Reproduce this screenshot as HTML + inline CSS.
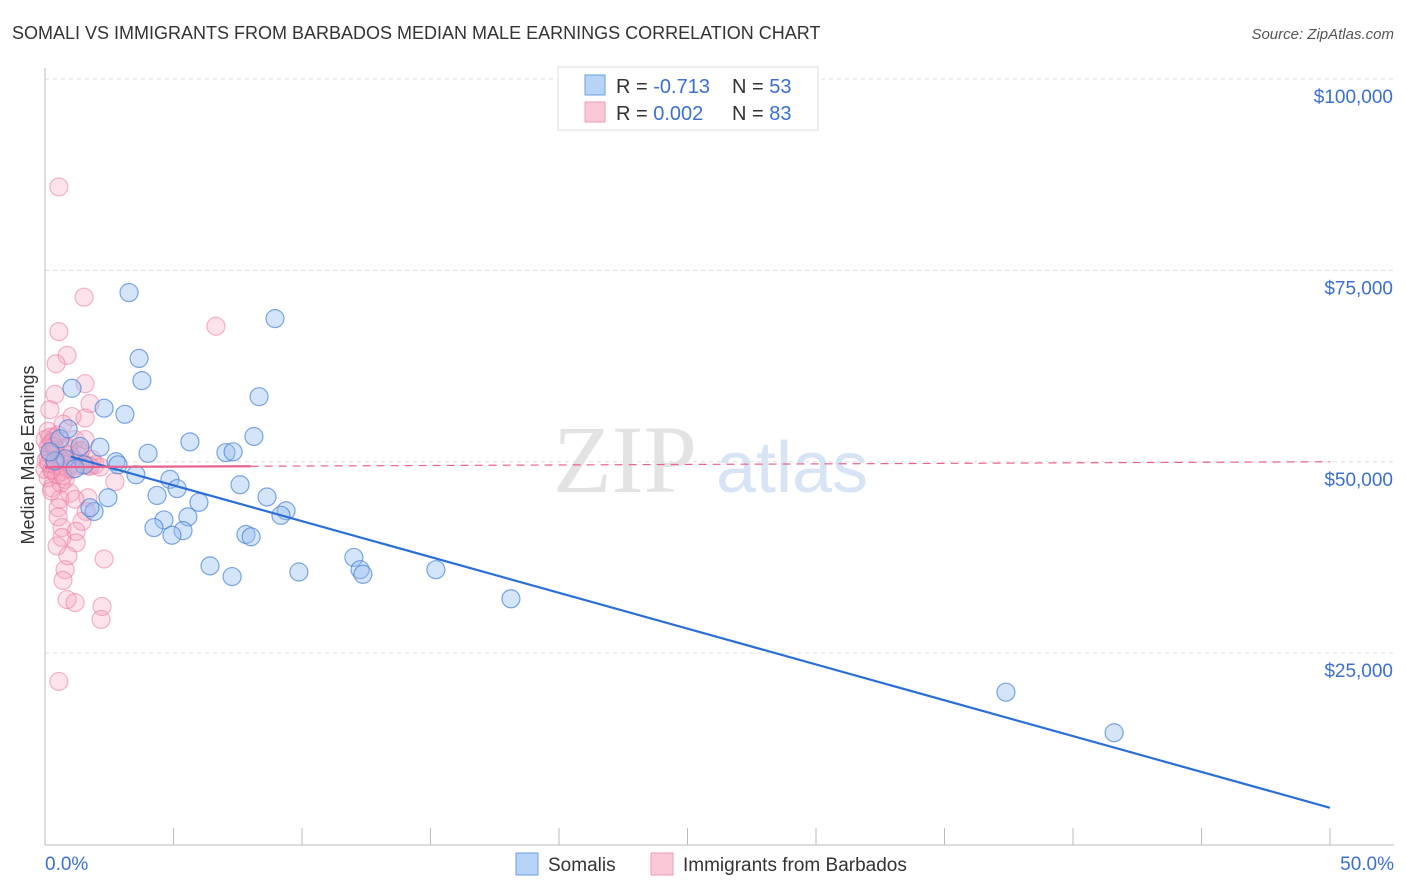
<!DOCTYPE html>
<html><head><meta charset="utf-8"><style>
body{margin:0;background:#fff;font-family:"Liberation Sans",sans-serif;}
#wrap{position:relative;width:1406px;height:892px;overflow:hidden;}
</style></head><body>
<div id="wrap">
<svg id="svg" width="1406" height="892"></svg>
</div>
<script>
const yTicks=[25000,50000,75000,100000];
const yTickLabels=["$25,000","$50,000","$75,000","$100,000"];
const somaliX=[3.27,8.95,3.66,3.77,8.33,1.05,2.30,3.11,8.13,5.64,7.04,7.32,4.01,2.14,2.76,1.36,1.52,3.54,4.86,5.14,4.36,2.45,7.59,8.64,5.99,9.38,9.18,1.91,5.56,4.63,4.24,5.37,4.94,7.82,8.02,6.42,7.28,9.88,12.02,12.26,12.37,15.21,18.13,37.39,41.6,0.78,0.39,0.58,1.17,1.75,0.9,0.19,2.84];
const somaliY=[72.1,68.7,63.5,60.6,58.5,59.6,57.0,56.2,53.3,52.6,51.2,51.3,51.1,51.9,50.0,52.0,49.6,48.3,47.7,46.5,45.6,45.3,47.0,45.4,44.7,43.6,43.0,43.5,42.8,42.4,41.4,41.0,40.4,40.5,40.2,36.4,35.0,35.6,37.5,35.9,35.3,35.9,32.1,19.9,14.6,50.4,50.1,53.0,49.1,44.0,54.3,51.3,49.6];
const barbX=[0.54,1.52,6.65,0.54,0.86,0.43,1.56,0.39,1.75,0.19,1.05,1.56,0.70,0.12,0.39,1.17,0.19,0.78,1.36,0.12,0.51,0.97,1.67,1.95,0.27,0.66,0.12,0.78,2.72,0.27,0.97,0.58,1.67,1.17,0.51,1.6,0.51,1.44,0.66,1.21,0.66,1.21,0.47,0.89,2.30,0.78,0.70,0.86,1.17,2.22,2.18,0.54,0.19,0.39,0.0,0.58,0.97,0.12,0.27,0.82,1.36,1.56,1.83,2.14,0.0,0.39,1.05,1.28,0.19,0.89,1.75,0.51,0.05,0.3,0.45,0.62,0.9,1.1,0.25,0.7,0.15,0.35,1.4];
const barbY=[85.9,71.5,67.7,67.0,63.9,62.8,60.2,58.8,57.6,56.8,55.9,55.7,54.9,54.0,53.2,52.9,52.3,51.9,51.3,50.5,50.0,49.6,49.5,49.6,49.0,48.7,47.9,47.7,47.4,46.6,45.9,45.1,45.3,45.1,44.0,43.5,42.8,42.2,41.4,40.9,40.1,39.4,39.0,37.7,37.3,35.9,34.5,32.0,31.6,31.1,29.4,21.3,51.0,49.6,49.0,50.5,50.9,51.9,48.9,50.0,49.5,52.9,50.3,49.3,52.9,51.6,49.0,50.9,53.2,51.9,49.4,53.5,50.2,52.6,48.3,47.2,49.1,50.4,46.2,48.2,49.8,52.0,51.5];
const somaliTrend=[51.6,-0.936];
const barbTrend=[49.3,0.014];
const X0=45,X1=1330,Y0=844.5,Y100=79;
const xs=v=>X0+(v/50)*(X1-X0);
const ys=v=>Y0-(v/100000)*(Y0-Y100);
const svg=document.getElementById('svg');
const NS='http://www.w3.org/2000/svg';
function mk(t,a,p){const e=document.createElementNS(NS,t);for(const k in a)e.setAttribute(k,a[k]);(p||svg).appendChild(e);return e;}
let t=mk('text',{x:12,y:39,'font-size':18,fill:'#333'});t.textContent='SOMALI VS IMMIGRANTS FROM BARBADOS MEDIAN MALE EARNINGS CORRELATION CHART';

t=mk('text',{x:1394,y:39,'font-size':15,fill:'#555','text-anchor':'end','font-style':'italic'});t.textContent='Source: ZipAtlas.com';

t=mk('text',{x:553,y:492,'font-size':96,fill:'#e3e3e3','font-family':'Liberation Serif, serif'});t.textContent='ZIP';

t=mk('text',{x:716,y:492,'font-size':72,fill:'#d6e4f5'});t.textContent='atlas';

yTicks.forEach((v,i)=>{
 const g=mk('line',{x1:X0,x2:1394,y1:ys(v),y2:ys(v),stroke:'#ddd','stroke-dasharray':'4,4'});
 
 const l=mk('text',{x:1393,y:ys(v)+24,'font-size':19,fill:'#3b6fd0','text-anchor':'end'});l.textContent=yTickLabels[i];
 
});
let a=mk('line',{x1:X0,x2:X0,y1:68,y2:845,stroke:'#bbb'});
a=mk('line',{x1:X0,x2:1394,y1:845,y2:845,stroke:'#bbb'});
for(let i=0;i<=10;i++){const k=mk('line',{x1:xs(i*5),x2:xs(i*5),y1:828,y2:845,stroke:'#bbb'});}
t=mk('text',{x:45,y:870,'font-size':19,fill:'#3b6fd0'});t.textContent='0.0%';
t=mk('text',{x:1394,y:870,'font-size':19,fill:'#3b6fd0','text-anchor':'end'});t.textContent='50.0%';
t=mk('text',{x:34,y:455,'font-size':18,fill:'#333','text-anchor':'middle',transform:'rotate(-90 34 455)'});t.textContent='Median Male Earnings';

barbX.forEach((x,i)=>{const c=mk('circle',{cx:xs(x),cy:ys(barbY[i]*1000),r:9,fill:'rgba(246,160,190,0.3)',stroke:'rgba(235,120,160,0.55)','stroke-width':1.2});
 });
somaliX.forEach((x,i)=>{const c=mk('circle',{cx:xs(x),cy:ys(somaliY[i]*1000),r:9,fill:'rgba(150,190,240,0.4)',stroke:'rgba(70,130,215,0.7)','stroke-width':1.2});
 });
const sy=x=>ys((somaliTrend[0]+somaliTrend[1]*x)*1000);
let l=mk('line',{x1:xs(1),y1:sy(1),x2:xs(50),y2:sy(50),stroke:'#2a6fd6','stroke-width':2.2});

const by=x=>ys((barbTrend[0]+barbTrend[1]*x)*1000);
l=mk('line',{x1:xs(0),y1:by(0),x2:xs(8),y2:by(8),stroke:'#e8628f','stroke-width':2.2});

l=mk('line',{x1:xs(8),y1:by(8),x2:xs(50),y2:by(50),stroke:'#e8628f','stroke-width':1.2,'stroke-dasharray':'8,6'});

const lg=mk('g',{});
mk('rect',{x:558,y:67,width:260,height:63,fill:'#fff',stroke:'#ddd'},lg);
[[85,'#b7d3f6','#6a9fe0','-0.713','53'],[112,'#fbc8d8','#f09ab8','0.002','83']].forEach(r=>{
 mk('rect',{x:585,y:r[0]-10,width:20,height:20,fill:r[1],stroke:r[2]},lg);
 const tx=mk('text',{x:616,y:r[0]+8,'font-size':20,fill:'#333'},lg);
 tx.innerHTML='R = <tspan fill="#3b6fd0">'+r[3]+'</tspan><tspan x="732">N = </tspan><tspan fill="#3b6fd0">'+r[4]+'</tspan>';
 
});
[[516,'#b7d3f6','#6a9fe0','Somalis'],[651,'#fbc8d8','#f09ab8','Immigrants from Barbados']].forEach(r=>{
 const g=mk('g',{});
 mk('rect',{x:r[0],y:853,width:22,height:22,fill:r[1],stroke:r[2]},g);
 const tx=mk('text',{x:r[0]+32,y:871,'font-size':19,fill:'#333'},g);tx.textContent=r[3];
});
</script>
</body></html>
